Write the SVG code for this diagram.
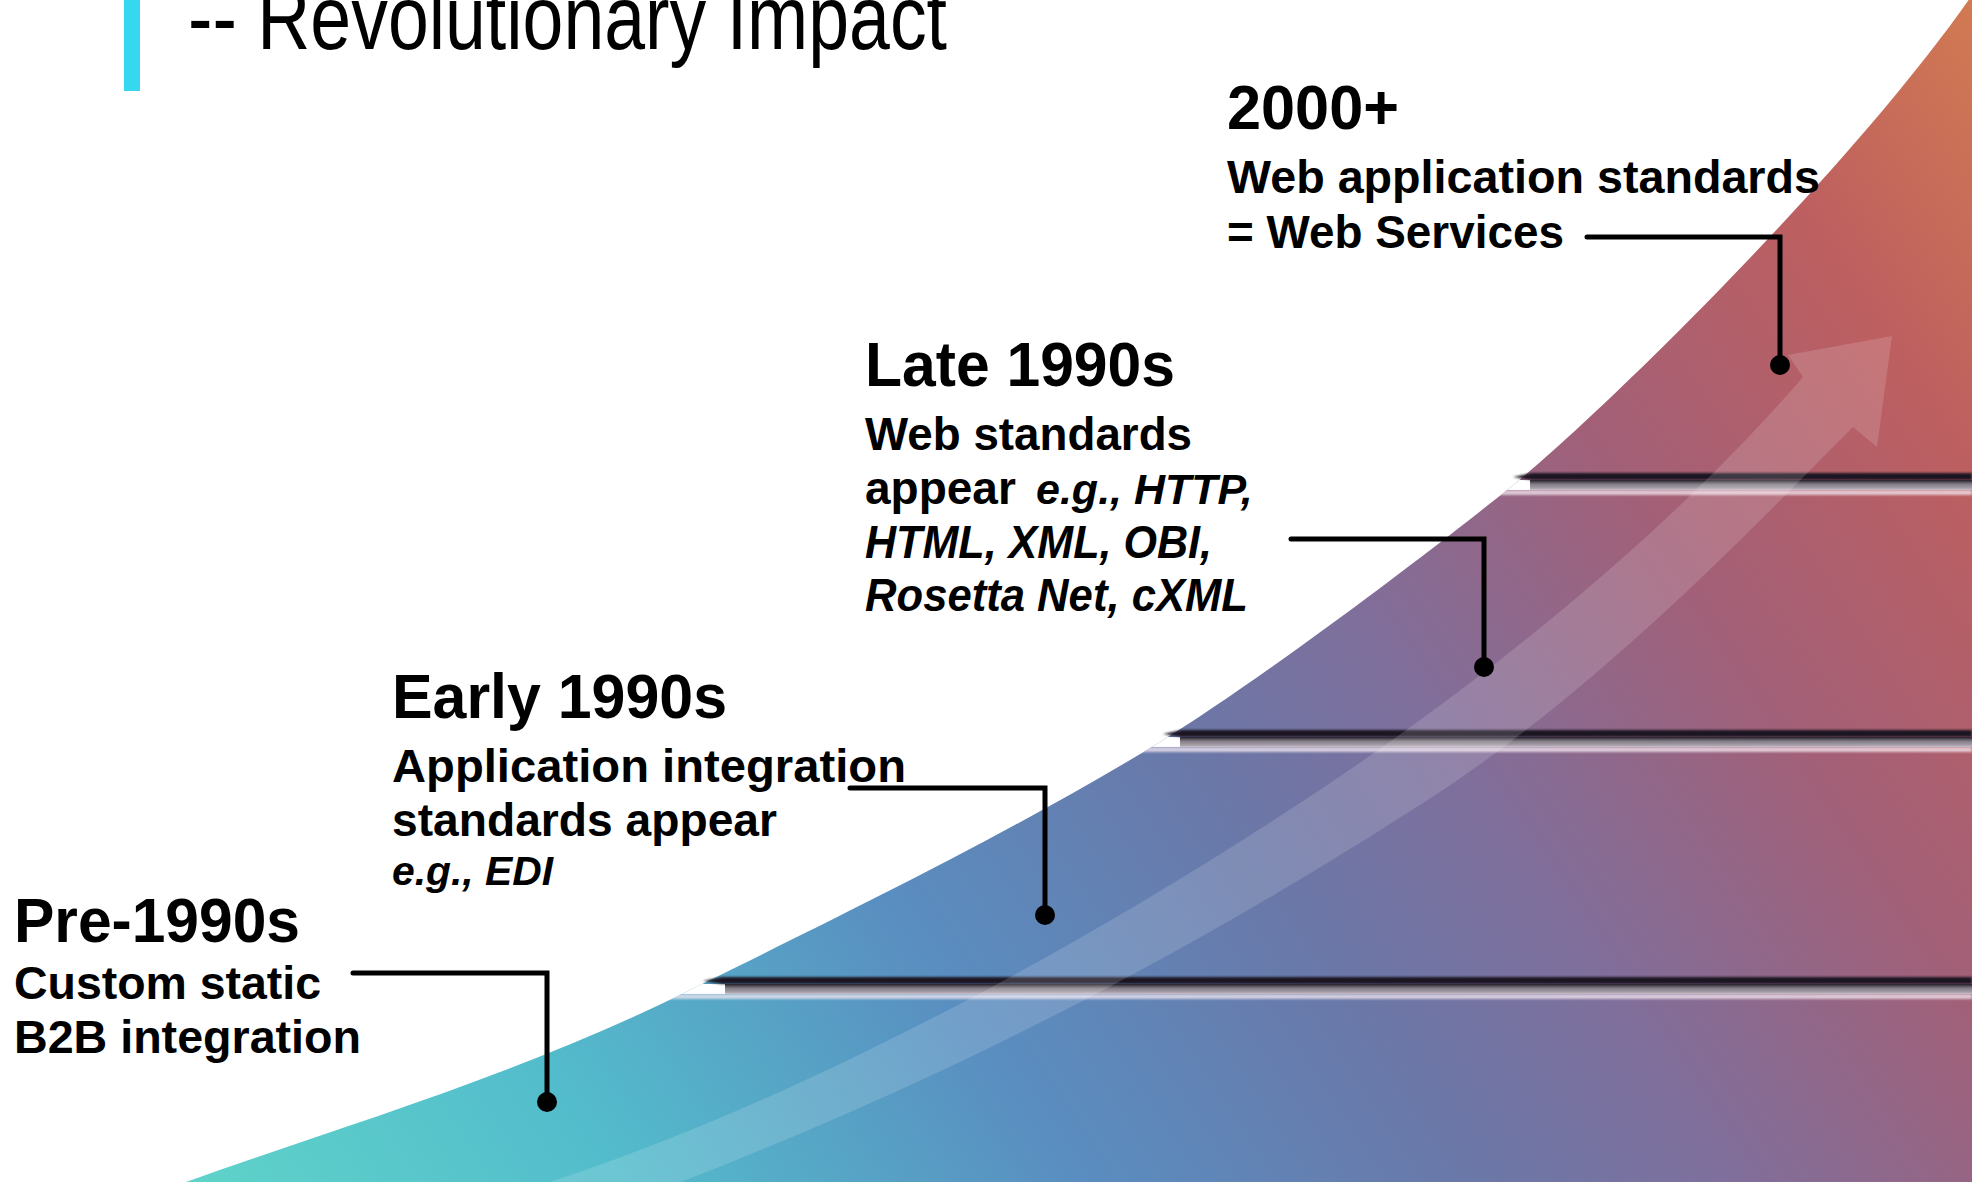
<svg xmlns="http://www.w3.org/2000/svg" width="1972" height="1182" viewBox="0 0 1972 1182">
  <defs>
    <style>
      .lbl { font-family: "Liberation Sans", Arial, sans-serif; font-weight: bold; fill: #000; }
      .yr { font-size: 63px; }
      .body { font-size: 47px; }
      .it { font-style: italic; }
      .conn { fill: none; stroke: #000; stroke-width: 5; stroke-linecap: round; stroke-linejoin: miter; }
      .dot { fill: #000; }
      .dark { fill: #1c1722; filter: url(#soft); }
      .shadow { fill: url(#shadeGrad); }
      .light { fill: #f4e8f0; opacity: 0.75; filter: url(#soft); }
      .gap { fill: #fff; }
    </style>
    <linearGradient id="mount" gradientUnits="userSpaceOnUse" x1="186" y1="1182" x2="1972" y2="0">
      <stop offset="0" stop-color="#5fd3c9"/>
      <stop offset="0.17" stop-color="#53bccc"/>
      <stop offset="0.35" stop-color="#5a8dc0"/>
      <stop offset="0.5" stop-color="#6a78a8"/>
      <stop offset="0.6" stop-color="#7f6f9c"/>
      <stop offset="0.74" stop-color="#a26078"/>
      <stop offset="0.88" stop-color="#bd5f60"/>
      <stop offset="1" stop-color="#d27a52"/>
    </linearGradient>
    <linearGradient id="shadeGrad" x1="0" y1="0" x2="0" y2="1">
      <stop offset="0" stop-color="#2e2934"/>
      <stop offset="0.45" stop-color="#858089"/>
      <stop offset="1" stop-color="#b7adb9"/>
    </linearGradient>
    <filter id="soft" x="-5%" y="-100%" width="110%" height="300%">
      <feGaussianBlur stdDeviation="0.9"/>
    </filter>
    <clipPath id="mountClip">
      <path d="M 186 1182 C 330 1130 520 1075 690 990 C 790 940 1000 840 1160 742 C 1260 680 1420 560 1512 486 C 1600 415 1850 170 1970 -2 L 1972 -2 L 1972 1182 Z"/>
    </clipPath>
  </defs>

  <rect width="1972" height="1182" fill="#fff"/>

  <g id="title">
    <rect x="124" y="0" width="16" height="91" fill="#35d8f0"/>
    <text x="188" y="49" font-family="Liberation Sans, Arial, sans-serif" font-size="90" textLength="759" lengthAdjust="spacingAndGlyphs">-- Revolutionary Impact</text>
  </g>

  <g id="staircase">
    <path d="M 186 1182 C 330 1130 520 1075 690 990 C 790 940 1000 840 1160 742 C 1260 680 1420 560 1512 486 C 1600 415 1850 170 1970 -2 L 1972 -2 L 1972 1182 Z" fill="url(#mount)"/>
    <g clip-path="url(#mountClip)">
      <rect class="gap" x="600" y="984" width="125" height="10"/>
      <rect class="shadow" x="725" y="984" width="1247" height="10"/>
      <rect class="light" x="600" y="994" width="1372" height="5"/>
      <rect class="gap" x="1100" y="737" width="80" height="10"/>
      <rect class="shadow" x="1180" y="737" width="792" height="10"/>
      <rect class="light" x="1100" y="747" width="872" height="5"/>
      <rect class="gap" x="1450" y="480" width="80" height="10"/>
      <rect class="shadow" x="1530" y="480" width="442" height="10"/>
      <rect class="light" x="1450" y="490" width="522" height="5"/>
    </g>
    <polygon class="dark" points="703,981 722,977 1972,977 1972,984 722,984"/>
    <polygon class="dark" points="1163,734 1182,730 1972,730 1972,737 1182,737"/>
    <polygon class="dark" points="1513,477 1532,473 1972,473 1972,480 1532,480"/>
    <path clip-path="url(#mountClip)" fill="#fff" fill-opacity="0.15" d="M 525 1190 C 720 1130 1000 1000 1300 803 C 1500 672 1680 520 1803 377 L 1788 355 L 1892 336 L 1877 447 L 1853 427 C 1750 530 1600 690 1420 805 C 1240 920 1000 1060 660 1190 Z"/>
  </g>

  <g id="connectors">
    <path class="conn" d="M 353 973 H 547 V 1102"/>
    <circle class="dot" cx="547" cy="1102" r="10"/>
    <path class="conn" d="M 850 788 H 1045 V 915"/>
    <circle class="dot" cx="1045" cy="915" r="10"/>
    <path class="conn" d="M 1291 539 H 1484 V 667"/>
    <circle class="dot" cx="1484" cy="667" r="10"/>
    <path class="conn" d="M 1587 237 H 1780 V 365"/>
    <circle class="dot" cx="1780" cy="365" r="10"/>
  </g>

  <g id="node-pre1990s">
    <text class="lbl yr" x="14" y="942" textLength="286" lengthAdjust="spacingAndGlyphs">Pre-1990s</text>
    <text class="lbl" x="14" y="999" font-size="46" textLength="307" lengthAdjust="spacingAndGlyphs">Custom static</text>
    <text class="lbl" x="14" y="1053" font-size="46" textLength="347" lengthAdjust="spacingAndGlyphs">B2B integration</text>
  </g>

  <g id="node-early1990s">
    <text class="lbl yr" x="392" y="718" textLength="335" lengthAdjust="spacingAndGlyphs">Early 1990s</text>
    <text class="lbl body" x="392" y="782" textLength="514" lengthAdjust="spacingAndGlyphs">Application integration</text>
    <text class="lbl body" x="392" y="836" textLength="385" lengthAdjust="spacingAndGlyphs">standards appear</text>
    <text class="lbl it" x="392" y="885" font-size="40" textLength="161" lengthAdjust="spacingAndGlyphs">e.g., EDI</text>
  </g>

  <g id="node-late1990s">
    <text class="lbl yr" x="865" y="386" textLength="310" lengthAdjust="spacingAndGlyphs">Late 1990s</text>
    <text class="lbl body" x="865" y="450" textLength="327" lengthAdjust="spacingAndGlyphs">Web standards</text>
    <text class="lbl" y="504" font-size="46"><tspan x="865">appear</tspan><tspan class="it" x="1036" font-size="43">e.g., HTTP,</tspan></text>
    <text class="lbl it body" x="865" y="558" textLength="347" lengthAdjust="spacingAndGlyphs">HTML, XML, OBI,</text>
    <text class="lbl it body" x="865" y="611" textLength="383" lengthAdjust="spacingAndGlyphs">Rosetta Net, cXML</text>
  </g>

  <g id="node-2000plus">
    <text class="lbl yr" x="1227" y="129" textLength="172" lengthAdjust="spacingAndGlyphs">2000+</text>
    <text class="lbl body" x="1227" y="193" textLength="593" lengthAdjust="spacingAndGlyphs">Web application standards</text>
    <text class="lbl body" x="1227" y="248" textLength="337" lengthAdjust="spacingAndGlyphs">= Web Services</text>
  </g>
</svg>
